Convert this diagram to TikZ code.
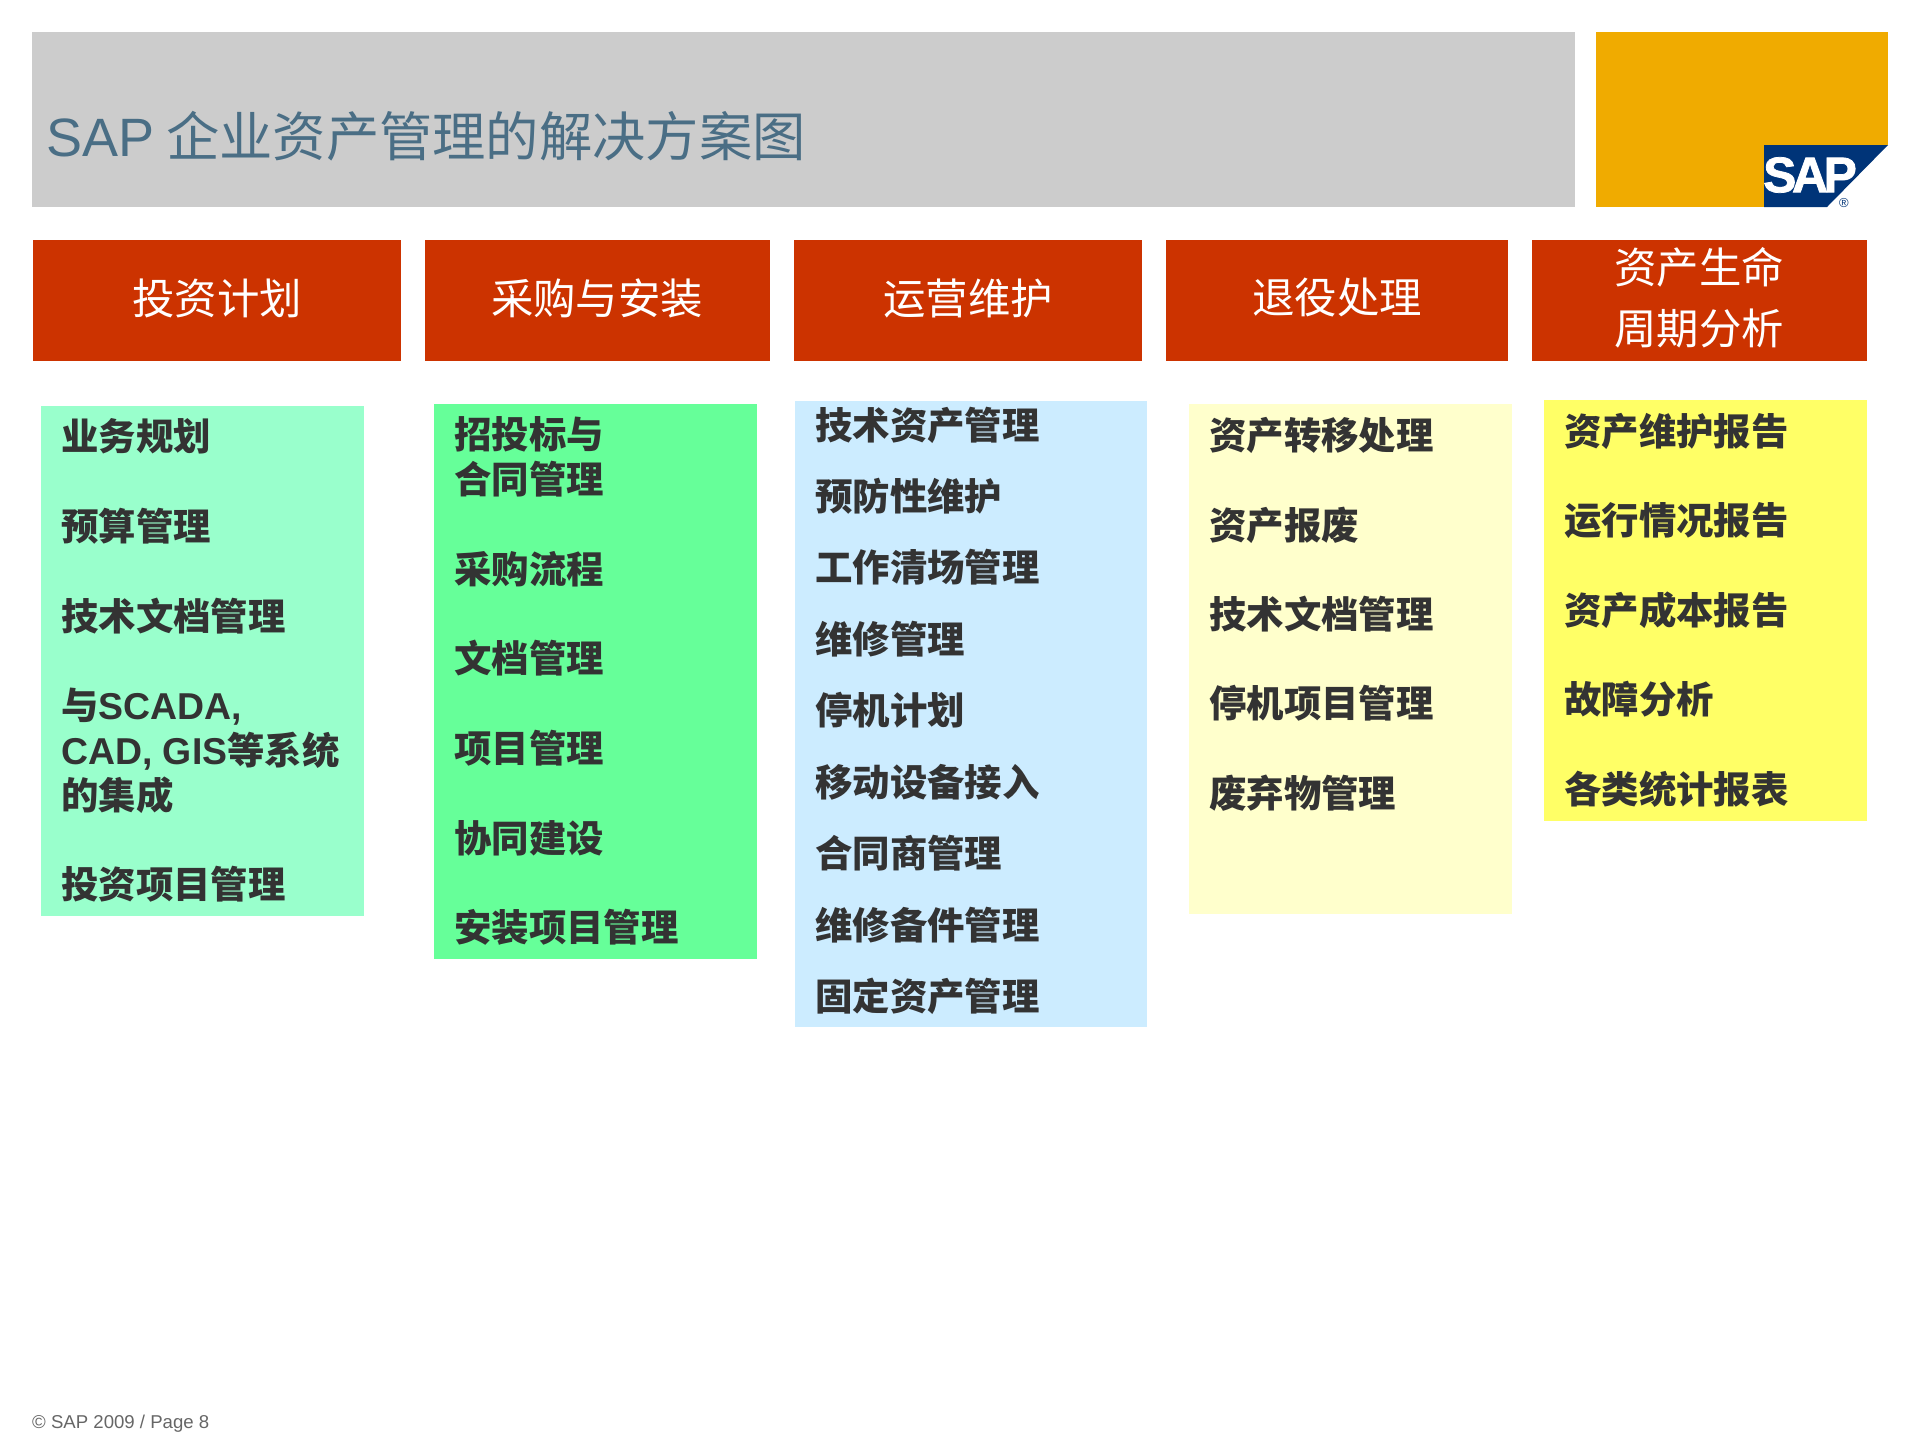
\documentclass[tikz,border=0pt]{standalone}
\usepackage{fontspec}
\setmainfont{Noto Sans CJK SC}
\newfontfamily\latf{Liberation Sans}
\newcommand{\lat}[1]{{\latf #1}}
\definecolor{titlegray}{HTML}{CCCCCC}
\definecolor{sapgold}{HTML}{F0AB00}
\definecolor{sapblue}{HTML}{003478}
\definecolor{hdrred}{HTML}{CC3300}
\definecolor{titleblue}{HTML}{4A6E85}
\definecolor{inkdark}{HTML}{333333}
\definecolor{colA}{HTML}{99FFCC}
\definecolor{colB}{HTML}{66FF99}
\definecolor{colC}{HTML}{CCECFF}
\definecolor{colD}{HTML}{FFFFCC}
\definecolor{colE}{HTML}{FFFF66}
\tikzset{
  hdrbox/.style={fill=hdrred},
  hdrtext/.style={text=white,anchor=center,align=center,inner sep=0pt,font=\fontsize{42.4}{61}\selectfont},
  itemtext/.style={text=inkdark,anchor=west,align=left,inner sep=0pt,font=\fontsize{37.4}{45}\selectfont\bfseries},
}
\begin{document}
\begin{tikzpicture}[x=1pt,y=-1pt]
\useasboundingbox (0,0) rectangle (1920,1440);
% title band
\fill[titlegray] (32,32) rectangle (1575,207);
\node[anchor=west,inner sep=0pt,text=titleblue,font=\fontsize{53.3}{60}\selectfont] (title) at (46,136) {\lat{\fontsize{54}{60}\selectfont SAP} 企业资产管理的解决方案图};
% logo
\fill[sapgold] (1596,32) rectangle (1888,207);
\fill[white] (1764,145) -- (1888,145) -- (1888,207) -- (1764,207) -- cycle;
\fill[sapblue] (1764,145) -- (1888,145) -- (1827,207) -- (1764,207) -- cycle;
\node[inner sep=0pt,text=white,font=\latf\bfseries\fontsize{50}{50}\selectfont] (logo) at (1810,175) {\addfontfeature{LetterSpace=-9,FakeBold=1.5}SAP};
\node[inner sep=0pt,text=sapblue,font=\latf\fontsize{13}{13}\selectfont] (reg) at (1844,203) {®};
% headers
\fill[hdrbox] (33,240) rectangle (401,361);
\fill[hdrbox] (425,240) rectangle (770,361);
\fill[hdrbox] (794,240) rectangle (1142,361);
\fill[hdrbox] (1166,240) rectangle (1508,361);
\fill[hdrbox] (1532,240) rectangle (1867,361);
\node[hdrtext] (h1) at (217,298) {投资计划};
\node[hdrtext] (h2) at (597,298) {采购与安装};
\node[hdrtext] (h3) at (968,298) {运营维护};
\node[hdrtext] (h4) at (1337,298) {退役处理};
\node[hdrtext] (h5) at (1699,298) {资产生命\\周期分析};
% columns
\fill[colA] (41,406) rectangle (364,916);
\fill[colB] (434,404) rectangle (757,959);
\fill[colC] (795,401) rectangle (1147,1027);
\fill[colD] (1189,404) rectangle (1512,914);
\fill[colE] (1544,400) rectangle (1867,821);
% column 1
\node[itemtext] (a1) at (61,436) {业务规划};
\node[itemtext] (a2) at (61,526) {预算管理};
\node[itemtext] (a3) at (61,616) {技术文档管理};
\node[itemtext] (a4) at (61,751) {与\lat{SCADA,}\\\lat{CAD, GIS}等系统\\的集成};
\node[itemtext] (a5) at (61,884) {投资项目管理};
% column 2
\node[itemtext] (b1) at (454,457) {招投标与\\合同管理};
\node[itemtext] (b2) at (454,569) {采购流程};
\node[itemtext] (b3) at (454,658) {文档管理};
\node[itemtext] (b4) at (454,748) {项目管理};
\node[itemtext] (b5) at (454,838) {协同建设};
\node[itemtext] (b6) at (454,927) {安装项目管理};
% column 3
\node[itemtext] (c1) at (815,425) {技术资产管理};
\node[itemtext] (c2) at (815,496) {预防性维护};
\node[itemtext] (c3) at (815,567) {工作清场管理};
\node[itemtext] (c4) at (815,639) {维修管理};
\node[itemtext] (c5) at (815,710) {停机计划};
\node[itemtext] (c6) at (815,782) {移动设备接入};
\node[itemtext] (c7) at (815,853) {合同商管理};
\node[itemtext] (c8) at (815,925) {维修备件管理};
\node[itemtext] (c9) at (815,996) {固定资产管理};
% column 4
\node[itemtext] (d1) at (1209,435) {资产转移处理};
\node[itemtext] (d2) at (1209,525) {资产报废};
\node[itemtext] (d3) at (1209,614) {技术文档管理};
\node[itemtext] (d4) at (1209,703) {停机项目管理};
\node[itemtext] (d5) at (1209,793) {废弃物管理};
% column 5
\node[itemtext] (e1) at (1564,431) {资产维护报告};
\node[itemtext] (e2) at (1564,521) {运行情况报告};
\node[itemtext] (e3) at (1564,610) {资产成本报告};
\node[itemtext] (e4) at (1564,699) {故障分析};
\node[itemtext] (e5) at (1564,789) {各类统计报表};
% footer
\node[anchor=west,inner sep=0pt,text=black!60,font=\latf\fontsize{18.6}{24}\selectfont] (foot) at (32,1424) {© SAP 2009 / Page 8};
\end{tikzpicture}
\end{document}
